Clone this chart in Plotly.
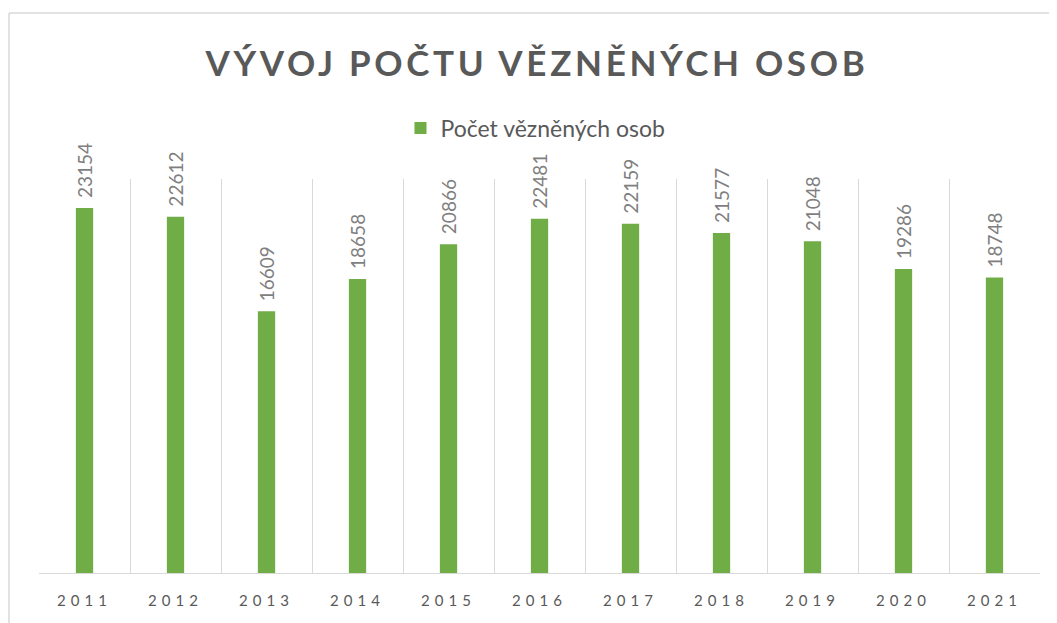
import plotly.graph_objects as go

years = ["2011", "2012", "2013", "2014", "2015", "2016", "2017", "2018", "2019", "2020", "2021"]
values = [23154, 22612, 16609, 18658, 20866, 22481, 22159, 21577, 21048, 19286, 18748]
series_name = "Počet vězněných osob"
title_text = "VÝVOJ POČTU VĚZNĚNÝCH OSOB"

GREEN = "#70AD47"
GRID = "#D9D9D9"
DARK = "#595959"

W, H = 1049, 615  # page body has an 8px margin
ML, MR, MT, MB = 31, 17, 171, 50
PW, PH = W - ML - MR, H - MT - MB

fig = go.Figure()
fig.add_trace(go.Bar(
    x=years, y=values, name=series_name,
    marker=dict(color=GREEN, line=dict(width=0)),
    hoverinfo="x+y",
))

annotations = []
for i, v in enumerate(values):
    annotations.append(dict(
        x=i, y=v, xref="x", yref="y", text=str(v), showarrow=False,
        textangle=-90, xanchor="center", yanchor="bottom", yshift=8,
        font=dict(family="Lato", size=19, color="#7F7F7F"),
    ))

fig.update_layout(
    width=W, height=H,
    margin=dict(l=ML, r=MR, t=MT, b=MB),
    paper_bgcolor="white", plot_bgcolor="white",
    title=dict(
        text='<span style="letter-spacing:3.7px">' + title_text + '</span>',
        x=529 / W, xanchor="center", y=1 - 56 / H, yanchor="middle", yref="container",
        font=dict(family="Lato", size=35, color=DARK, weight="bold"),
    ),
    showlegend=True,
    legend=dict(
        orientation="h", x=0.496, xanchor="center", y=1.129, yanchor="middle",
        font=dict(family="Lato", size=23, color=DARK),
        bgcolor="rgba(0,0,0,0)",
    ),
    bargap=0.81,
    xaxis=dict(
        type="category", range=[-0.5, len(years) - 0.5],
        tickmode="array", tickvals=years,
        ticktext=['<span style="letter-spacing:5px">' + y + '</span>' for y in years],
        tickson="boundaries", ticks="", showgrid=True, gridcolor=GRID, gridwidth=1,
        showline=True, linecolor=GRID, linewidth=1,
        tickfont=dict(family="Lato", size=15, color=DARK),
        tickangle=0, zeroline=False, ticklabelstandoff=14,
    ),
    yaxis=dict(range=[0, 25000], visible=False, showgrid=False, zeroline=False),
    annotations=annotations,
    shapes=[
        dict(type="line", xref="paper", yref="paper", x0=-30 / PW, x1=-30 / PW,
             y0=-0.3, y1=1 + 166 / PH, line=dict(color=GRID, width=1.5)),
        dict(type="line", xref="paper", yref="paper", x0=-30 / PW, x1=1.1,
             y0=1 + 166 / PH, y1=1 + 166 / PH, line=dict(color=GRID, width=1.5)),
    ],
)

fig.write_html("out.html")
